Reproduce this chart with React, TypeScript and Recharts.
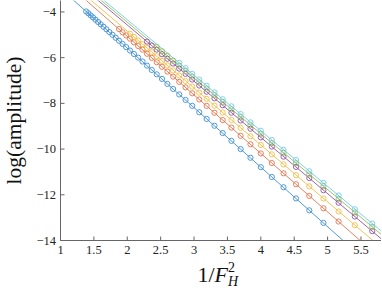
import { LineChart, Line, XAxis, YAxis } from 'recharts';

// 1/F_H^2 sampled at F_H = 0.85, 0.84, ..., 0.42
const xGrid = [
  1.384, 1.417, 1.452, 1.487, 1.524, 1.563, 1.602, 1.644, 1.687, 1.731, 1.778, 1.826,
  1.877, 1.929, 1.984, 2.041, 2.1, 2.163, 2.228, 2.296, 2.367, 2.441, 2.52, 2.601,
  2.687, 2.778, 2.873, 2.973, 3.078, 3.189, 3.306, 3.429, 3.56, 3.698, 3.845, 4.0,
  4.165, 4.34, 4.527, 4.726, 4.938, 5.165, 5.408, 5.669,
];

const blueY = [
  -3.98, -4.06, -4.15, -4.24, -4.34, -4.44, -4.54, -4.65, -4.76, -4.88, -5.0, -5.13, -5.26,
  -5.4, -5.54, -5.69, -5.84, -6.0, -6.17, -6.35, -6.54, -6.73, -6.93, -7.15, -7.37, -7.61,
  -7.85, -8.11, -8.39, -8.68, -8.98, -9.3, -9.64, -10.0, -10.38, -10.79, -11.22, -11.67,
  -12.16, -12.68, -13.23,
];
const orangeY = [
  -4.75, -4.89, -5.03, -5.17, -5.33, -5.49, -5.65, -5.83, -6.01, -6.2, -6.4, -6.61, -6.83,
  -7.06, -7.3, -7.56, -7.83, -8.11, -8.41, -8.73, -9.06, -9.42, -9.79, -10.19, -10.61,
  -11.06, -11.54, -12.05, -12.59, -13.17,
];
const yellowY = [
  -4.95, -5.09, -5.25, -5.41, -5.58, -5.76, -5.94, -6.14, -6.34, -6.56, -6.78, -7.02, -7.27,
  -7.53, -7.8, -8.1, -8.4, -8.73, -9.07, -9.44, -9.82, -10.23, -10.67, -11.14, -11.63,
  -12.16, -12.73, -13.33,
];
const purpleY = [
  -5.3, -5.47, -5.65, -5.85, -6.05, -6.26, -6.48, -6.71, -6.96, -7.22, -7.49, -7.78, -8.08,
  -8.41, -8.75, -9.11, -9.49, -9.89, -10.33, -10.78, -11.27, -11.8, -12.35, -12.95, -13.59,
];
const greenY = [
  -5.53, -5.72, -5.92, -6.13, -6.35, -6.58, -6.83, -7.08, -7.35, -7.64, -7.94, -8.26, -8.6,
  -8.96, -9.33, -9.74, -10.16, -10.62, -11.11, -11.62, -12.18, -12.77, -13.41,
];
const cyanY = [
  -6.23, -6.46, -6.71, -6.96, -7.23, -7.52, -7.82, -8.13, -8.47, -8.83, -9.2, -9.6, -10.03,
  -10.48, -10.97, -11.48, -12.03, -12.63, -13.26,
];

// linear fits, evaluated at x = 1 and x = 6
const fitX = [1, 6];
const blueFit = [-2.98, -16.0];
const orangeFit = [-2.51, -15.31];
const yellowFit = [-2.35, -14.8];
const purpleFit = [-2.11, -14.41];
const greenFit = [-2.01, -14.21];
const cyanFit = [-1.91, -14.06];

const xTicks = [1, 1.5, 2, 2.5, 3, 3.5, 4, 4.5, 5, 5.5];
const yTicks = [-14, -12, -10, -8, -6, -4];

const toPoints = (xs: number[], ys: number[]) => ys.map((y, i) => ({ x: xs[i], y }));

const series = [
  { name: 'blue', color: '#3f8fd2', xs: xGrid.slice(0, 41), ys: blueY, fit: blueFit },
  { name: 'orange', color: '#e4744e', xs: xGrid.slice(12, 42), ys: orangeY, fit: orangeFit },
  { name: 'yellow', color: '#f1bd45', xs: xGrid.slice(15, 43), ys: yellowY, fit: yellowFit },
  { name: 'purple', color: '#9453a2', xs: xGrid.slice(19, 44), ys: purpleY, fit: purpleFit },
  { name: 'green', color: '#8fc04f', xs: xGrid.slice(21, 44), ys: greenY, fit: greenFit },
  { name: 'cyan', color: '#73c9ee', xs: xGrid.slice(25, 44), ys: cyanY, fit: cyanFit },
];

const FRAME = '#666';
const SERIF = '"Liberation Serif", "DejaVu Serif", serif';
const labelStyle = { fontFamily: SERIF, fontSize: 12.5 };
const fmt = (v: number) => String(v).replace('-', '\u2212');

function BottomTick({ x, y, payload }: any) {
  return (
    <g>
      <line x1={x} x2={x} y1={y} y2={y - 4} stroke={FRAME} />
      <text x={x} y={y + 13.5} textAnchor="middle" style={labelStyle} fill="#222">
        {fmt(payload.value)}
      </text>
    </g>
  );
}

function TopTick({ x, y }: any) {
  return <line x1={x} x2={x} y1={y} y2={y + 4} stroke={FRAME} />;
}

function LeftTick({ x, y, payload }: any) {
  return (
    <g>
      <line x1={x} x2={x + 4} y1={y} y2={y} stroke={FRAME} />
      <text x={x - 4.5} y={y + 4} textAnchor="end" style={labelStyle} fill="#222">
        {fmt(payload.value)}
      </text>
    </g>
  );
}

function RightTick({ x, y }: any) {
  return <line x1={x} x2={x - 4} y1={y} y2={y} stroke={FRAME} />;
}

function XTitle({ viewBox }: any) {
  const cx = viewBox.x + viewBox.width / 2 - 3;
  const base = viewBox.y + 41;
  return (
    <text x={cx} y={base} textAnchor="middle" style={{ fontFamily: SERIF, fontSize: 22 }} fill="#111">
      1/<tspan fontStyle="italic">F</tspan>
      <tspan fontSize={14} dy={-10}>2</tspan>
      <tspan fontSize={14} fontStyle="italic" dx={-7} dy={14}>H</tspan>
    </text>
  );
}

function YTitle({ viewBox }: any) {
  const x = 21;
  const y = viewBox.y + viewBox.height / 2;
  return (
    <text
      x={x}
      y={y}
      transform={`rotate(-90 ${x} ${y})`}
      textAnchor="middle"
      style={{ fontFamily: SERIF, fontSize: 21.5 }}
      fill="#111"
    >
      log(amplitude)
    </text>
  );
}

export default function App() {
  return (
    <div style={{ position: 'absolute', left: 0, top: 0, width: 382, height: 288, background: '#fff' }}>
      <LineChart width={382} height={288} margin={{ top: 0.5, right: 1, bottom: 0, left: 0 }}>
        <XAxis
          xAxisId={0}
          type="number"
          dataKey="x"
          domain={[1, 5.8]}
          ticks={xTicks}
          interval={0}
          allowDataOverflow
          height={47.5}
          stroke={FRAME}
          tickSize={0}
          tickMargin={0}
          tickLine={false}
          tick={<BottomTick />}
          label={<XTitle />}
        />
        <XAxis
          xAxisId="top"
          orientation="top"
          type="number"
          dataKey="x"
          domain={[1, 5.8]}
          ticks={xTicks}
          interval={0}
          allowDataOverflow
          height={0}
          stroke={FRAME}
          tickSize={0}
          tickMargin={0}
          tickLine={false}
          tick={<TopTick />}
        />
        <YAxis
          yAxisId={0}
          type="number"
          domain={[-14, -3.5]}
          ticks={yTicks}
          interval={0}
          allowDataOverflow
          width={60.5}
          stroke={FRAME}
          tickSize={0}
          tickMargin={0}
          tickLine={false}
          tick={<LeftTick />}
          label={<YTitle />}
        />
        <YAxis
          yAxisId="right"
          orientation="right"
          type="number"
          domain={[-14, -3.5]}
          ticks={yTicks}
          interval={0}
          allowDataOverflow
          width={0}
          stroke={FRAME}
          tickSize={0}
          tickMargin={0}
          tickLine={false}
          tick={<RightTick />}
        />
        {series.map((s) => (
          <Line
            key={s.name + '-fit'}
            data={toPoints(fitX, s.fit)}
            dataKey="y"
            type="linear"
            stroke={s.color}
            strokeWidth={0.9}
            dot={false}
            activeDot={false}
            isAnimationActive={false}
          />
        ))}
        {series.map((s) => (
          <Line
            key={s.name + '-pts'}
            data={toPoints(s.xs, s.ys)}
            dataKey="y"
            type="linear"
            stroke="none"
            dot={{ r: 2.6, fill: 'none', stroke: s.color, strokeWidth: 0.9 }}
            activeDot={false}
            isAnimationActive={false}
          />
        ))}
      </LineChart>
    </div>
  );
}
